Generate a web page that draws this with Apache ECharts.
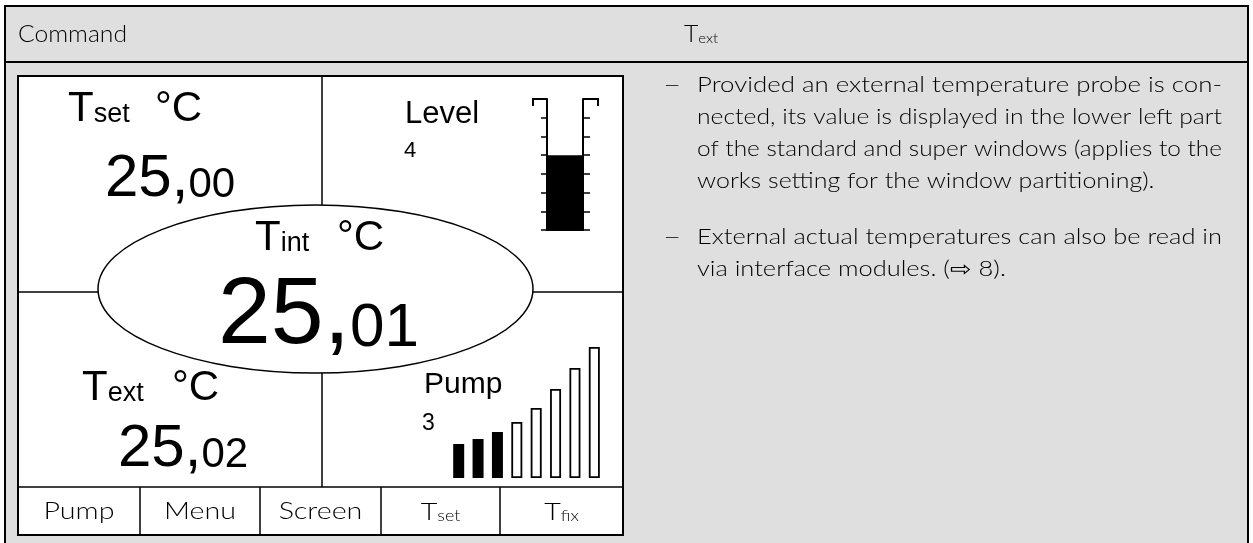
<!DOCTYPE html>
<html>
<head>
<meta charset="utf-8">
<script src="https://cdn.jsdelivr.net/npm/echarts@6/dist/echarts.min.js"></script>
<style>
  html, body { margin: 0; padding: 0; background: #fff; }
  #chart { width: 1253px; height: 543px; }
</style>
</head>
<body>
<div id="chart"></div>
<script>
// pump bar graph: 8 steps, first 3 active
const pumpSteps = ['1', '2', '3', '4', '5', '6', '7', '8'];
const pumpHeights = [34, 39, 46, 56, 70, 89, 110, 131];
const pumpLevel = 3;

// level gauge: 7 divisions, filled to 4
const levelSteps = 7;
const levelValue = 4;

const readings = {set: ['25', '00'], int: ['25', '01'], ext: ['25', '02']};
const buttons = [['Pump'], ['Menu'], ['Screen'], ['T', 'set'], ['T', 'fix']];
const noteLines = [
  ['Provided an external temperature probe is con-',
   'nected, its value is displayed in the lower left part',
   'of the standard and super windows (applies to the',
   'works setting for the window partitioning).'],
  ['External actual temperatures can also be read in',
   'via interface modules. (\u21E8 8).']
];

const LCD = 'Liberation Sans, Arial, sans-serif';
const DOC = 'Lato, sans-serif';
const DOCW = 300;

const ctx = document.createElement('canvas').getContext('2d');
function measure(str, size, family, weight) {
  ctx.font = (weight || 'normal') + ' ' + size + 'px ' + family;
  const m = ctx.measureText(str);
  return {w: m.width, mid: (m.fontBoundingBoxAscent - m.fontBoundingBoxDescent) / 2};
}

// text placed by its baseline, optionally stretched sideways
function txt(x, base, str, size, family, weight, align, sx) {
  const m = measure(str, size, family, weight);
  return {
    type: 'text', x: x, y: base - m.mid, z: 10, scaleX: sx || 1,
    style: {
      text: str, fontSize: size, fontFamily: family, fontWeight: weight || 'normal',
      fill: '#000', verticalAlign: 'middle', align: align || 'left'
    }
  };
}

// consecutive pieces on one baseline
function run(x, base, parts, family, weight, sx) {
  const out = [];
  sx = sx || 1;
  parts.forEach(p => {
    out.push(txt(x, base, p[0], p[1], family, weight, 'left', sx));
    x += measure(p[0], p[1], family, weight).w * sx;
  });
  return out;
}

function line(x1, y1, x2, y2, w) {
  return {type: 'line', z: 5, shape: {x1, y1, x2, y2}, style: {stroke: '#000', lineWidth: w || 1.5}};
}

const g = [];
// table
g.push({type: 'rect', z: 0, shape: {x: 5, y: 6, width: 1243, height: 560}, style: {fill: '#dfdfdf', stroke: '#000', lineWidth: 2}});
g.push(line(5, 62, 1248, 62, 2));
const hs = 109 / measure('Command', 23, DOC, DOCW).w;
g.push(txt(18, 44, 'Command', 23, DOC, DOCW, 'left', hs));
g.push(...run(684, 44, [['T', 23], ['ext', 14]], DOC, DOCW, hs));

// display frame
const L = 18, R = 623, T = 76, B = 535, BTN = 487;
g.push({type: 'rect', z: 1, shape: {x: L, y: T, width: R - L, height: B - T}, style: {fill: '#fff', stroke: '#000', lineWidth: 2}});
g.push(line(322, T, 322, BTN));
g.push(line(L, 292, R, 292));
g.push({type: 'ellipse', z: 6, shape: {cx: 315.5, cy: 289, rx: 217.5, ry: 84}, style: {fill: '#fff', stroke: '#000', lineWidth: 1.5}});
g.push(line(L, BTN, R, BTN));
const cuts = [L, 140, 260, 381, 500, R];
cuts.slice(1, -1).forEach(x => g.push(line(x, BTN, x, B)));
const bs = 71 / measure('Pump', 24, DOC, DOCW).w;
buttons.forEach((b, i) => {
  const cx = (cuts[i] + cuts[i + 1]) / 2;
  if (b.length === 1) {
    g.push(txt(cx, 521, b[0], 24, DOC, DOCW, 'center', bs));
  } else {
    const w = (measure(b[0], 24, DOC, DOCW).w + measure(b[1], 15, DOC, DOCW).w) * bs;
    g.push(...run(cx - w / 2, 522, [[b[0], 24], [b[1], 15]], DOC, DOCW, bs));
  }
});

// readings
g.push(...run(68, 124, [['T', 42], ['set', 27]], LCD));
g.push(txt(155, 124, '\u00B0C', 42, LCD));
g.push(...run(105, 200, [[readings.set[0] + ',', 60], [readings.set[1], 42]], LCD));

g.push(...run(255, 253, [['T', 42], ['int', 27]], LCD));
g.push(txt(337, 253, '\u00B0C', 42, LCD));
g.push(...run(218, 350, [[readings.int[0] + ',', 95], [readings.int[1], 62]], LCD));

g.push(...run(82, 403, [['T', 42], ['ext', 27]], LCD));
g.push(txt(172, 403, '\u00B0C', 42, LCD));
g.push(...run(118, 470, [[readings.ext[0] + ',', 60], [readings.ext[1], 42]], LCD));

g.push(txt(405, 125, 'Level', 31, LCD));
g.push(txt(404, 158, String(levelValue), 22, LCD));
g.push(txt(424, 395, 'Pump', 30, LCD));
g.push(txt(422, 432, String(pumpLevel), 23, LCD));

// level gauge top hooks
g.push({type: 'polyline', z: 5, shape: {points: [[533, 106], [533, 99], [547, 99]]}, style: {stroke: '#000', lineWidth: 2, fill: null}});
g.push({type: 'polyline', z: 5, shape: {points: [[583, 99], [598, 99], [598, 106]]}, style: {stroke: '#000', lineWidth: 2, fill: null}});

// notes, justified like the manual
const noteX = 697, dashX = 663, noteW = 525, noteSize = 21;
let y = 94;
noteLines.forEach((para, pi) => {
  if (pi > 0) y += 24;
  g.push(txt(dashX, y, '\u2013', noteSize, DOC, DOCW, 'left', 1.5));
  const fits = para.map(l => noteW / measure(l, noteSize, DOC, DOCW).w);
  const avg = fits.slice(0, -1).reduce((a, b) => a + b, 0) / Math.max(1, fits.length - 1);
  para.forEach((l, li) => {
    const sx = li < para.length - 1 ? fits[li] : avg;
    g.push(txt(noteX, y, l, noteSize, DOC, DOCW, 'left', sx));
    y += 32;
  });
});

const chart = echarts.init(document.getElementById('chart'), null, {renderer: 'canvas'});
const gaugeAxis = (pos, len) => ({
  gridIndex: 1, type: 'value', min: 0, max: levelSteps, interval: 1, position: pos, z: 20,
  axisLine: {show: true, lineStyle: {color: '#000', width: 2}},
  axisTick: {show: true, length: len, lineStyle: {color: '#000', width: 1.5}},
  axisLabel: {show: false}, splitLine: {show: false}
});

chart.setOption({
  animation: false,
  backgroundColor: '#fff',
  graphic: g,
  grid: [
    {left: 449, top: 347, width: 155, height: 131},
    {left: 547, top: 99, width: 36, height: 131}
  ],
  xAxis: [
    {gridIndex: 0, type: 'category', data: pumpSteps, show: false},
    {gridIndex: 1, type: 'category', data: ['level'], z: 20,
      axisLine: {show: true, lineStyle: {color: '#000', width: 2}},
      axisTick: {show: false}, axisLabel: {show: false}}
  ],
  yAxis: [
    {gridIndex: 0, type: 'value', min: 0, max: 131, show: false},
    gaugeAxis('left', 6),
    gaugeAxis('right', 7)
  ],
  series: [
    {
      type: 'bar', xAxisIndex: 0, yAxisIndex: 0, barWidth: 11, z: 20,
      data: pumpHeights.map((v, i) => ({
        value: v,
        itemStyle: i < pumpLevel
          ? {color: '#000'}
          : {color: '#fff', borderColor: '#000', borderWidth: 1.8}
      }))
    },
    {
      type: 'bar', xAxisIndex: 1, yAxisIndex: 1, barWidth: '100%', z: 20,
      data: [levelValue], itemStyle: {color: '#000'}
    }
  ]
});
</script>
</body>
</html>
